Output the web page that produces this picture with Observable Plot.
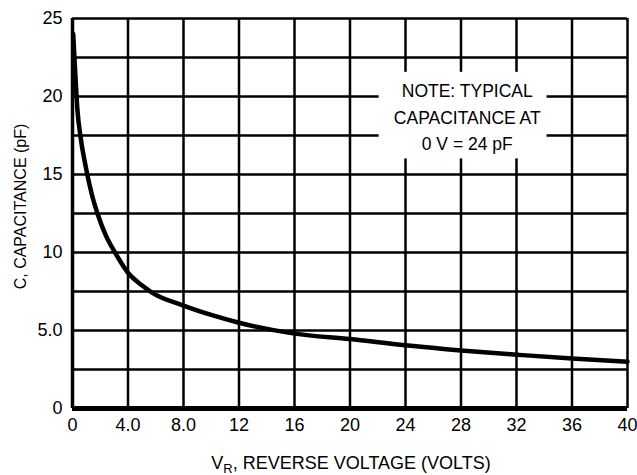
<!DOCTYPE html>
<html>
<head>
<meta charset="utf-8">
<script src="https://cdn.jsdelivr.net/npm/d3@7"></script>
<script src="https://cdn.jsdelivr.net/npm/@observablehq/plot@0.6"></script>
<style>
  html, body { margin: 0; padding: 0; background: #fff; }
  #chart svg { display: block; }
</style>
</head>
<body>
<div id="chart"></div>
<script>
// Reverse voltage (V) and capacitance (pF)
const voltage     = [0.05, 0.2, 0.35, 0.6, 1.0, 1.4, 1.8, 2.4, 3.1, 4, 5, 5.7, 8, 10, 12, 16, 20, 24, 28, 32, 36, 40];
const capacitance = [24, 21.5, 19.2, 17.3, 15.3, 13.7, 12.5, 11.1, 9.95, 8.7, 7.9, 7.45, 6.6, 6.0, 5.5, 4.8, 4.45, 4.05, 3.72, 3.45, 3.2, 3.0];

const xTicks = [0, 4, 8, 12, 16, 20, 24, 28, 32, 36, 40];
const xTickLabels = ["0", "4.0", "8.0", "12", "16", "20", "24", "28", "32", "36", "40"];
const yTicks = [0, 5, 10, 15, 20, 25];
const yTickLabels = ["0", "5.0", "10", "15", "20", "25"];
const yGrid = [0, 2.5, 5, 7.5, 10, 12.5, 15, 17.5, 20, 22.5, 25];

const noteText = "NOTE: TYPICAL\nCAPACITANCE AT\n0 V = 24 pF";
const noteX = 28.45, noteY = 18.8;
const noteX1 = [22.1], noteX2 = [34.2], noteY1 = [16.0], noteY2 = [21.55];

const yLabel = "C, CAPACITANCE (pF)";
const xLabelMain = "V", xLabelSub = "R", xLabelRest = ", REVERSE VOLTAGE (VOLTS)";

const data = voltage.map((v, i) => ({v, c: capacitance[i]}));
const boxes = noteX1.map((x1, i) => ({x1, x2: noteX2[i], y1: noteY1[i], y2: noteY2[i]}));
const FONT = "'Liberation Sans', Arial, Helvetica, sans-serif";

const plot = Plot.plot({
  width: 637,
  height: 475,
  marginLeft: 72,
  marginRight: 10,
  marginTop: 18,
  marginBottom: 67,
  style: {fontFamily: FONT, fontSize: "18px", color: "#000"},
  x: {domain: [0, 40], ticks: xTicks, tickFormat: (d, i) => xTickLabels[i], tickSize: 0, tickPadding: 10, label: null},
  y: {domain: [0, 25], ticks: yTicks, tickFormat: (d, i) => yTickLabels[i], tickSize: 0, tickPadding: 10, label: null},
  marks: [
    Plot.ruleX(xTicks, {x: d => d, stroke: "black", strokeWidth: 2.5}),
    Plot.ruleY(yGrid, {y: d => d, stroke: "black", strokeWidth: 2.5}),
    Plot.ruleX([0], {x: d => d, stroke: "black", strokeWidth: 3.5}),
    Plot.ruleY([0], {y: d => d, stroke: "black", strokeWidth: 5}),
    Plot.rect(boxes, {x1: d => d.x1, x2: d => d.x2, y1: d => d.y1, y2: d => d.y2, fill: "white"}),
    Plot.text([noteText], {x: () => noteX, y: () => noteY, text: d => d, lineHeight: 1.5, fontSize: 17.5, fill: "black"}),
    Plot.line(data, {x: "v", y: "c", curve: "monotone-x", stroke: "black", strokeWidth: 4.5}),
    Plot.text([yLabel], {frameAnchor: "left", textAnchor: "middle", rotate: -90, dx: -52, dy: -7, text: d => d, fontSize: 16, fill: "black"})
  ]
});

const svg = d3.select(plot);
const t = svg.append("text")
  .attr("x", 351)
  .attr("y", 469)
  .attr("text-anchor", "middle")
  .attr("font-family", FONT)
  .attr("font-size", 18)
  .attr("fill", "#000");
t.append("tspan").text(xLabelMain);
t.append("tspan").attr("font-size", 13).attr("dy", 4).text(xLabelSub);
t.append("tspan").attr("dy", -4).text(xLabelRest);

document.getElementById("chart").appendChild(plot);
</script>
</body>
</html>
